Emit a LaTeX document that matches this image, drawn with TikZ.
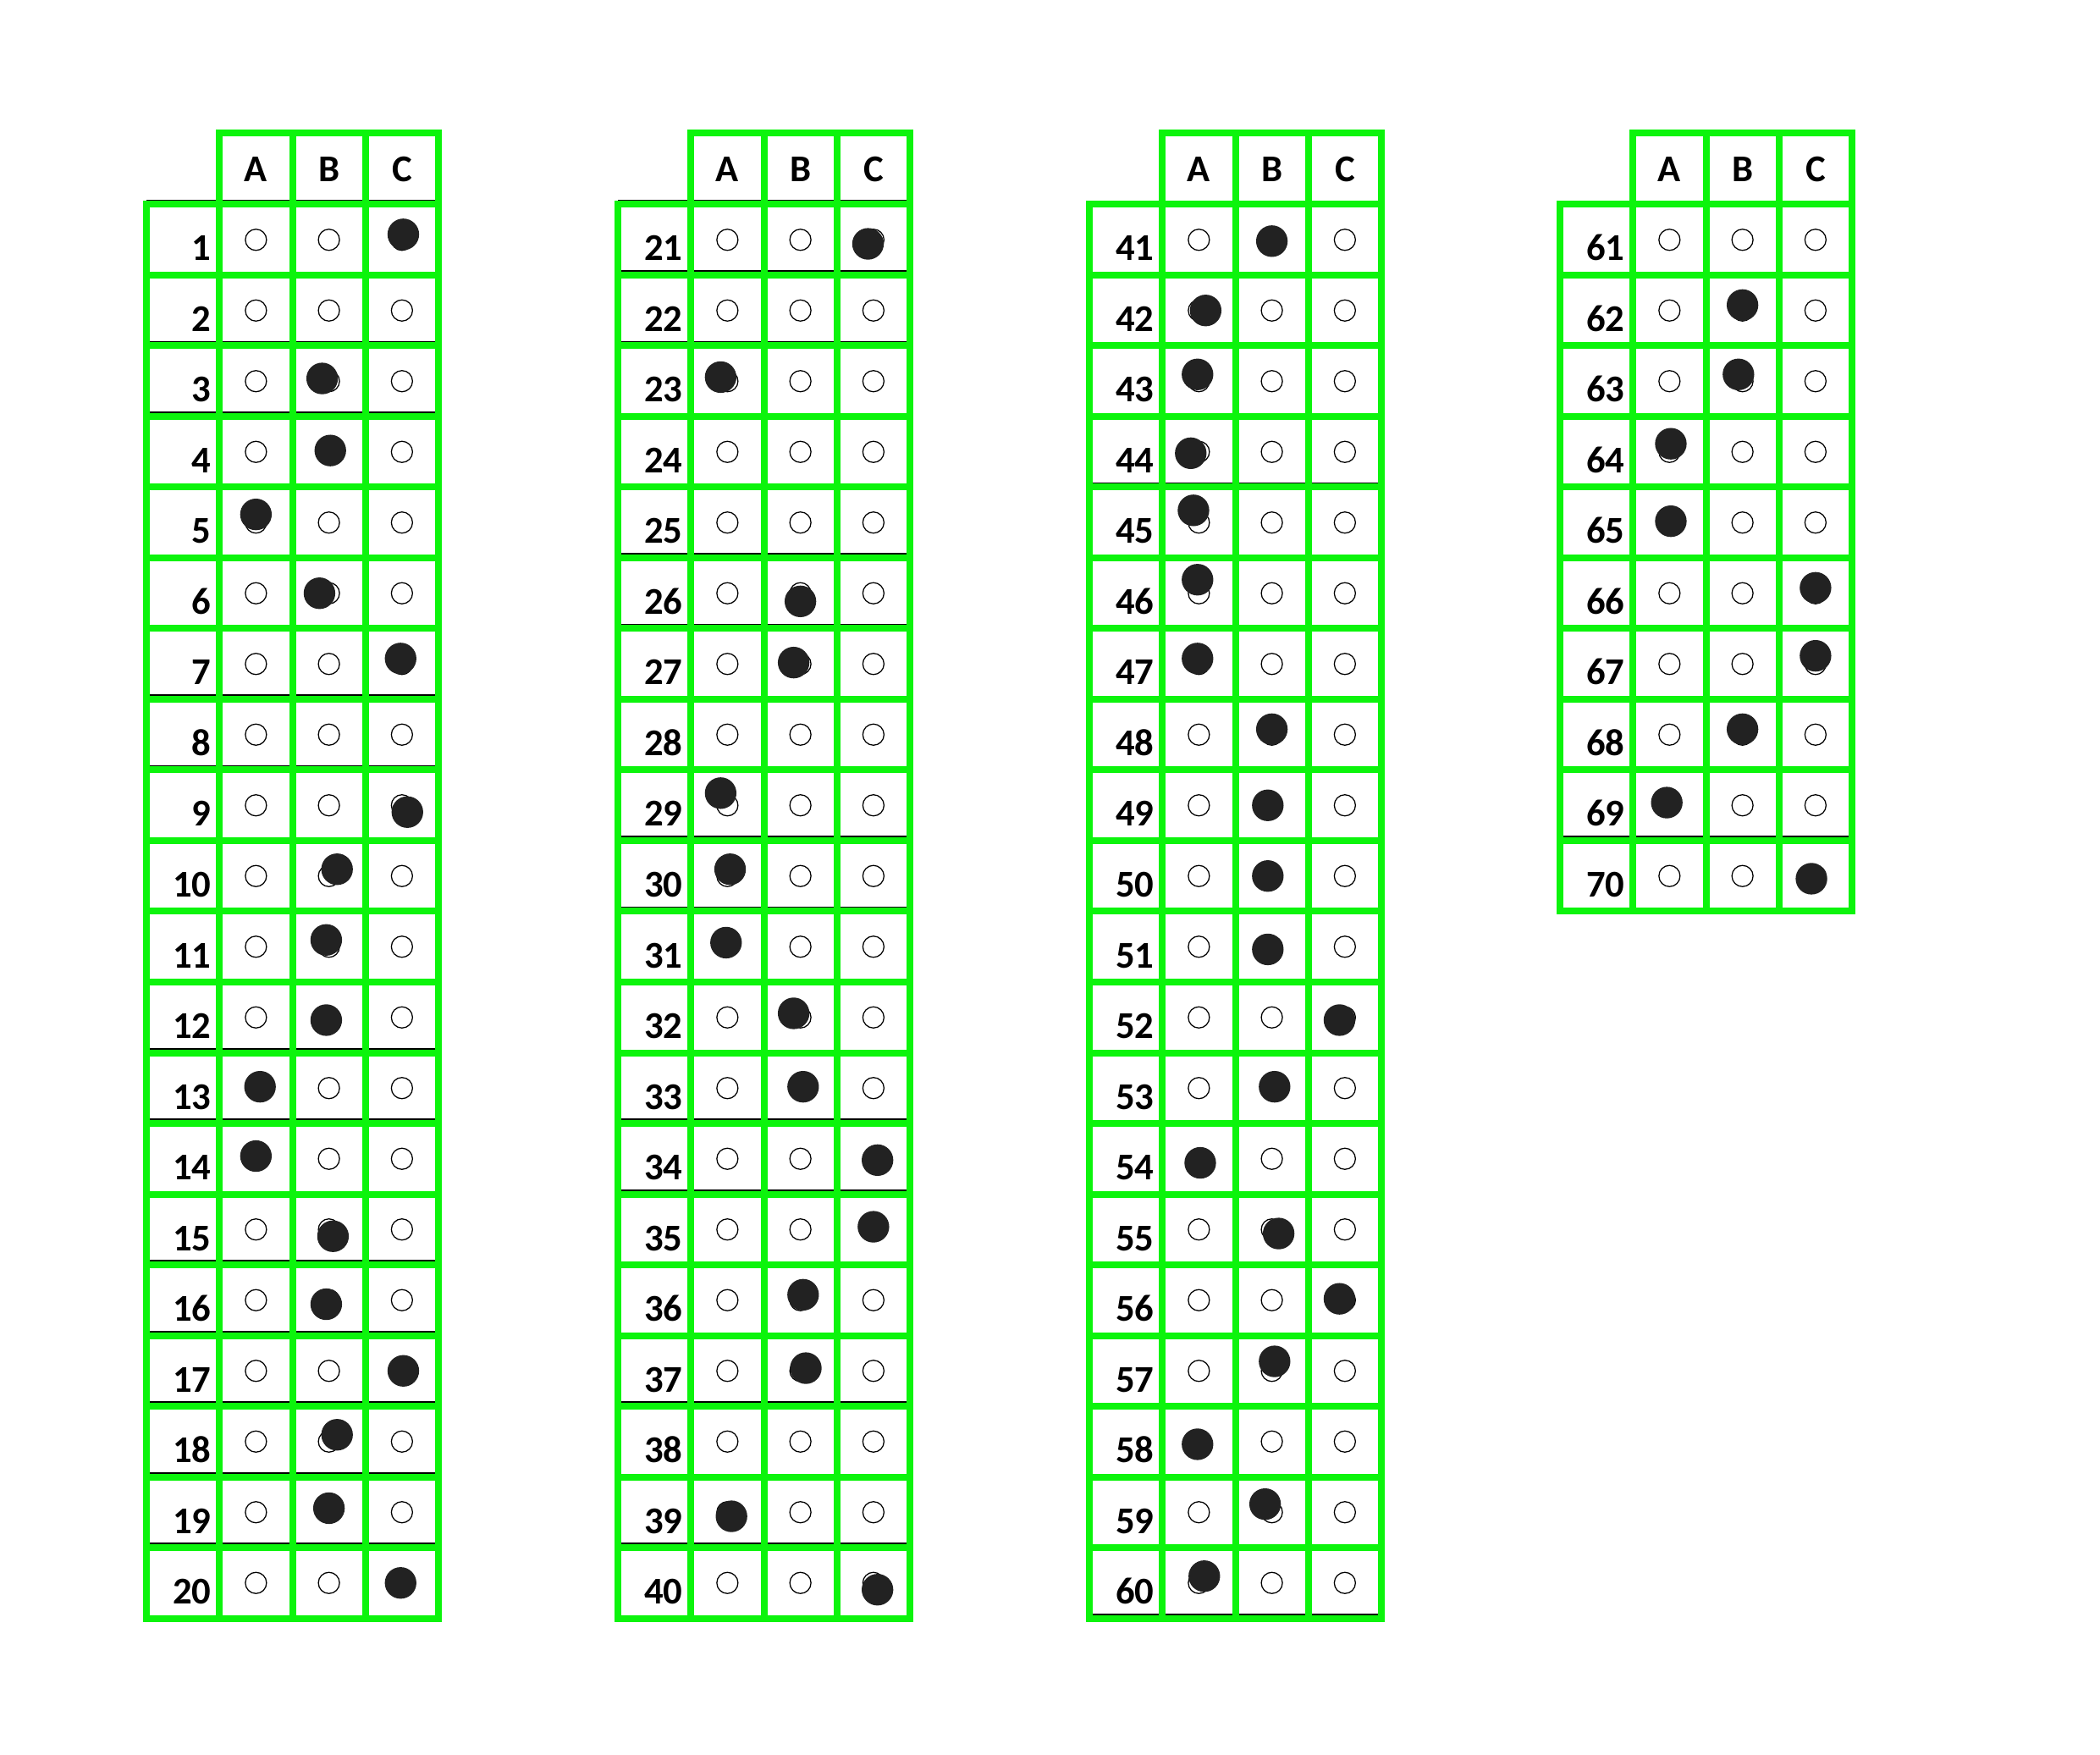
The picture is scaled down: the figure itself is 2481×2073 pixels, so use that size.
\documentclass[tikz,border=0pt]{standalone}
\usepackage{fontspec}
\setmainfont{Carlito}
\definecolor{gridgreen}{RGB}{12,244,12}
\definecolor{dotblack}{RGB}{34,34,34}
\tikzset{
  x=0.3pt, y=-0.3pt,
  gline/.style={draw=gridgreen, line width=2.4pt, line cap=rect},
  bline/.style={draw=black, line width=0.6pt},
  ring/.style={circle, draw=black, line width=0.38pt, inner sep=0pt, minimum size=7.5pt},
  dot/.style={circle, fill=dotblack, inner sep=0pt, minimum size=11.2pt},
  numtext/.style={font=\bfseries\fontsize{13.4}{14}\selectfont, inner sep=0pt, anchor=base east},
  headtext/.style={font=\bfseries\fontsize{13.4}{14}\selectfont, inner sep=0pt, anchor=base},
}
\def\cw{86.25}
\def\rh{83.5}
\def\yh{241.5}
\begin{document}
\begin{tikzpicture}
\useasboundingbox (0,0) rectangle (2481,2073);
% thin black scan lines just above some green row lines
\foreach \xo/\ks in {173/{0,2,3,7,8,12,13,15,16,17,18,19},
                     730/{0,1,2,5,6,9,10,13,14,17,19},
                     1287/{4,20},
                     1843/{9}}{
  \foreach \k in \ks {
    \draw[bline] (\xo,\yh+\k*\rh-4.6) -- (\xo+4*\cw,\yh+\k*\rh-4.6);
  }
}
% grids
\foreach \b/\xo/\n/\first in {0/173/20/1, 1/730/20/21, 2/1287/20/41, 3/1843/10/61}{
  \pgfmathsetmacro\ybot{\yh+\n*\rh}
  % header box
  \draw[gline] (\xo+\cw,157) -- (\xo+4*\cw,157);
  \foreach \k in {1,...,4}{
    \draw[gline] (\xo+\k*\cw,157) -- (\xo+\k*\cw,\ybot);
  }
  \draw[gline] (\xo,\yh) -- (\xo,\ybot);
  \foreach \k in {0,...,\n}{
    \draw[gline] (\xo,\yh+\k*\rh) -- (\xo+4*\cw,\yh+\k*\rh);
  }
  % header letters
  \foreach \c/\L in {1/A,2/B,3/C}{
    \node[headtext] (h\b\L) at (\xo+\c*\cw+0.5*\cw,215) {\L};
  }
  % numbers and rings
  \foreach \r in {1,...,\n}{
    \pgfmathtruncatemacro\q{\first+\r-1}
    \node[numtext] (n\q) at (\xo+\cw-9,\yh+\r*\rh-17) {\q};
    \foreach \c in {1,2,3}{
      \node[ring] (o\q-\c) at (\xo+\c*\cw+0.5*\cw,\yh+\r*\rh-0.5*\rh) {};
    }
  }
}
% filled answers: question/column/dx/dy
\foreach \q/\c/\dx/\dy in {
  1/3/1/-4, 3/2/-5/-2, 4/2/1/-1, 5/1/0/-6, 6/2/-7/0, 7/3/-1/-4, 9/3/4/5,
  10/2/6/-5, 11/2/-2/-5, 12/2/-2/2, 13/1/3/-1, 14/1/0/-2, 15/2/3/5,
  16/2/-2/3, 17/3/1/0, 18/2/6/-5, 19/2/0/-3, 20/3/-1/0,
  21/3/-4/3, 23/1/-5/-3, 26/2/0/6, 27/2/-5/-1, 29/1/-5/-9, 30/1/2/-5,
  31/1/-1/-3, 32/2/-5/-3, 33/2/2/-1, 34/3/3/1, 35/3/0/-2, 36/2/2/-4,
  37/2/4/-2, 39/1/3/3, 40/3/3/5,
  41/2/0/1, 42/1/5/0, 43/1/-1/-5, 44/1/-6/1, 45/1/-4/-9, 46/1/-1/-10,
  47/1/-1/-4, 48/2/0/-4, 49/2/-3/0, 50/2/-3/0, 51/2/-3/2, 52/3/-4/2,
  53/2/2/-1, 54/1/1/3, 55/2/5/3, 56/3/-4/-1, 57/2/2/-7, 58/1/-1/2,
  59/2/-5/-6, 60/1/4/-5,
  62/2/0/-4, 63/2/-3/-5, 64/1/1/-6, 65/1/1/-1, 66/3/0/-4, 67/3/0/-6,
  68/2/0/-4, 69/1/-2/-2, 70/3/-3/2}{
  \node[dot] (f\q) at ([xshift=1.6*\dx*0.3pt, yshift=-1.6*\dy*0.3pt]o\q-\c.center) {};
}
\end{tikzpicture}
\end{document}
